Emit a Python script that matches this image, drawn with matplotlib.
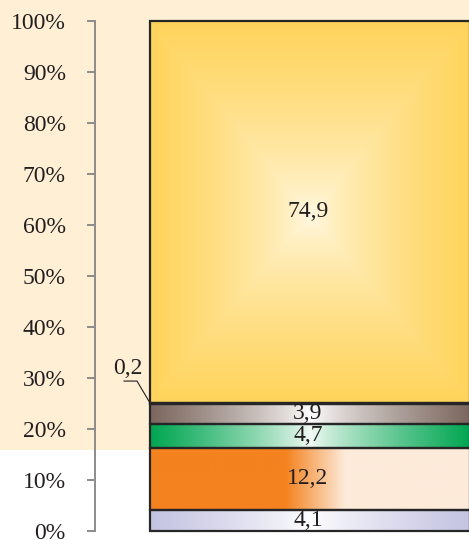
import numpy as np
import matplotlib
matplotlib.use('Agg')
import matplotlib.pyplot as plt
from matplotlib.patches import Rectangle
from matplotlib.colors import to_rgb

# data (bottom to top)
shares = [4.1, 12.2, 4.7, 3.9, 0.2, 74.9]
share_labels = ['4,1', '12,2', '4,7', '3,9', '0,2', '74,9']
yticks = [0, 10, 20, 30, 40, 50, 60, 70, 80, 90, 100]
ytick_labels = ['%d%%' % v for v in yticks]

plt.rcParams['font.family'] = ['Liberation Serif', 'DejaVu Serif']

fig = plt.figure(figsize=(4.69, 5.40), dpi=100)
fig.patch.set_facecolor('white')

# cream backdrop over the upper part of the figure
bg = fig.add_axes([0, 0, 1, 1], zorder=-10)
bg.set_axis_off()
bg.add_patch(Rectangle((0, 90 / 540), 1, 1, facecolor='#FEEFD5', edgecolor='none'))
bg.set_xlim(0, 1)
bg.set_ylim(0, 1)

ax = fig.add_axes([95 / 469, 9 / 540, 374 / 469, 510 / 540])
ax.set_facecolor('none')

X0, X1 = 150, 470  # bar extent in pixel-like x units
XC = 310


def lerp(c1, c2, t):
    c1 = np.array(to_rgb(c1))
    c2 = np.array(to_rgb(c2))
    t = np.clip(t, 0, 1)[..., None]
    return c1 * (1 - t) + c2 * t


def horiz(edge, center, n=320):
    x = np.linspace(X0, X1, n)
    t = np.abs(x - XC) / (XC - X0)
    return lerp(center, edge, t ** 0.8)[None, :, :]


def orange_grad(n=320):
    x = np.linspace(X0, X1, n)
    t = np.clip((x - 285) / 60, 0, 1)
    return lerp('#F4821F', '#FDEBDA', t)[None, :, :]


def box_grad(y0, y1, n=240):
    x = np.linspace(X0, X1, n)
    y = np.linspace(y0, y1, n)
    xx, yy = np.meshgrid(x, y)
    yc = 62
    ty = np.where(yy > yc, (yy - yc) / (y1 - yc), (yc - yy) / (yc - y0))
    t = np.maximum(np.abs(xx - XC) / (XC - X0), ty)
    return lerp('#FFFAEA', '#FFD45B', t ** 0.65)


fills = [
    lambda a, b: horiz('#C4C3E2', '#FFFFFF'),
    lambda a, b: orange_grad(),
    lambda a, b: horiz('#00A651', '#F4FBF6'),
    lambda a, b: horiz('#7B665D', '#FFFFFF'),
    lambda a, b: horiz('#333333', '#666666'),
    box_grad,
]

bottom = 0
for val, lab, fill in zip(shares, share_labels, fills):
    top = bottom + val
    img = fill(bottom, top)
    ax.imshow(img, extent=(X0, X1, bottom, top), origin='lower',
              aspect='auto', interpolation='bilinear', zorder=1)
    ax.add_patch(Rectangle((X0, bottom), X1 - X0, val, facecolor='none',
                           edgecolor='#262626', linewidth=1.6, zorder=2,
                           clip_on=False))
    if lab == '0,2':
        ax.text(128, 29.9, lab, fontsize=17, ha='center', va='bottom',
                color='#231F20')
        ax.plot([124, 137, X0], [29.4, 29.4, top], color='#231F20',
                lw=0.8, zorder=3, clip_on=False)
    else:
        ax.text(308, bottom + val / 2, lab, fontsize=17, ha='center',
                va='center', color='#231F20', zorder=3)
    bottom = top

ax.set_xlim(95, 469)
ax.set_ylim(0, 100)
for s in ['top', 'right', 'bottom']:
    ax.spines[s].set_visible(False)
ax.spines['left'].set_color('#8C8C8C')
ax.spines['left'].set_linewidth(1.4)
ax.set_xticks([])
ax.set_yticks(yticks)
ax.set_yticklabels(ytick_labels, fontsize=17, color='#231F20')
ax.tick_params(axis='y', length=6, width=1.4, color='#8C8C8C', pad=15)

fig.savefig('out.png', dpi=100)
